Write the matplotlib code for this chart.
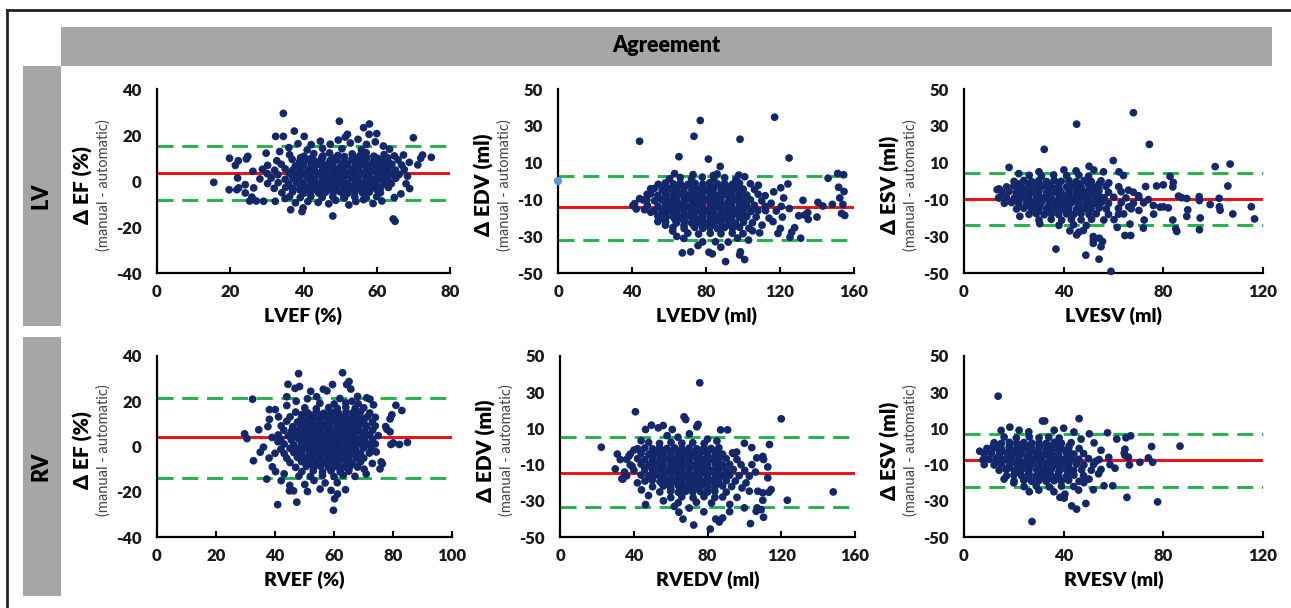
import numpy as np
import matplotlib.pyplot as plt
from matplotlib.patches import Rectangle
from matplotlib.lines import Line2D

plt.rcParams['font.family'] = ['Lato', 'DejaVu Sans']

W, H = 1291, 608

# mean difference, upper and lower limit of agreement
lvef_lines = [3.6, 15.4, -8.3]
lvedv_lines = [-14.3, 2.8, -31.8]
lvesv_lines = [-9.6, 4.5, -24.1]
rvef_lines = [4.0, 21.3, -14.1]
rvedv_lines = [-14.6, 5.4, -33.6]
rvesv_lines = [-7.4, 6.7, -22.2]

# (mean value, difference)
lvef_pts = [
    (15.5,-0.6),(34.5,29.4),(49.8,26.0),(58.0,24.8),(56.4,23.2),(37.5,21.7),(32.4,19.4),(34.5,19.4),
    (40.2,19.4),(70.0,18.8),(60.0,20.6),(57.9,20.3),(52.0,20.3),(51.4,19.1),(74.9,10.3),(72.5,11.3),
    (72.0,9.9),(71.2,7.0),(68.9,8.1),(67.3,11.3),(69.0,-3.3),(64.5,-16.5),(65.0,-17.5),(48.0,-15.2),
    (39.6,-13.3),(39.9,-11.7),(36.5,-12.5),(52.4,-10.4),(46.9,-9.9),(61.4,-8.7),(56.4,-8.1),(51.0,-7.2),
    (32.3,-8.8),(29.1,-8.8),(27.1,-8.7),(25.3,-8.7),(25.9,-7.0),(19.8,9.9),(19.7,-3.8),(22.3,-3.0),
    (21.8,-3.8),(24.1,-5.2),(21.4,6.8),(22.2,8.8),(24.8,10.7),(24.4,9.6),(24.1,-1.6),(22.0,1.3),
    (26.2,4.2),(26.4,-3.0),(38.5,16.2),(42.1,15.8),(44.6,17.3),(47.3,16.0),(49.5,17.8),(52.8,16.5),
    (54.9,18.1),(57.2,15.9),(59.6,17.0),(61.8,15.2),(63.5,13.8),(45.2,14.2),(55.8,13.6),(36.0,14.5),
    (33.5,12.8),(29.8,12.1),(67.5,5.0),(68.4,2.1),(68.0,-1.2),(66.6,-5.6),(64.8,-7.2),(59.0,-9.8),
    (44.0,-9.3),(41.2,-8.9),(37.8,-9.5),(35.0,-7.6),(54.3,-8.9),(48.8,-8.4),(41.0,13.5),(50.5,14.0),
    (36.2,11.4),(40.1,10.7),(42.8,11.9),(45.3,10.9),(47.1,12.2),(49.4,11.1),(51.2,10.6),(53.3,11.8),
    (55.4,11.0),(57.1,12.3),(59.2,10.8),(62.0,11.5),(64.8,10.9),
    (32.7,8.8),(36.9,9.4),(39.0,8.6),(41.2,9.3),(43.1,8.7),(45.0,9.5),(47.2,8.9),(49.1,9.2),(51.0,8.5),
    (53.2,9.4),(55.1,8.8),(57.0,9.1),(59.1,8.6),(61.2,9.3),(63.0,8.8),(65.8,9.2),
    (30.2,6.8),(33.9,7.3),(37.8,6.6),(40.0,7.2),(42.1,6.9),(44.0,7.4),(46.1,6.7),(48.0,7.1),(50.2,6.6),
    (52.0,7.3),(54.1,6.8),(56.0,7.2),(58.2,6.7),(60.1,7.1),(62.0,6.6),(64.1,7.3),(66.8,6.9),
    (28.8,5.1),(32.1,4.7),(35.0,5.3),(37.1,4.8),(39.0,5.2),(41.1,4.6),(43.0,5.1),(45.2,4.8),(47.0,5.4),
    (49.1,4.7),(51.0,5.2),(53.1,4.9),(55.0,5.3),(57.1,4.6),(59.0,5.1),(61.1,4.8),(63.0,5.2),(65.1,4.7),
    (30.1,3.2),(33.0,2.7),(36.1,3.3),(38.0,2.8),(40.1,3.1),(42.0,2.6),(44.1,3.3),(46.0,2.9),(48.1,3.2),
    (50.0,2.7),(52.1,3.1),(54.0,2.8),(56.1,3.3),(58.0,2.9),(60.1,3.2),(62.0,2.7),(64.1,3.1),(66.1,2.8),
    (28.1,0.9),(31.2,1.3),(35.0,0.7),(37.1,1.2),(39.0,0.8),(41.1,1.3),(43.0,0.9),(45.1,1.2),(47.0,0.7),
    (49.1,1.1),(51.0,0.8),(53.1,1.3),(55.0,0.9),(57.1,1.2),(59.0,0.7),(61.1,1.1),(63.0,0.8),(65.2,1.2),
    (30.2,-1.1),(33.1,-0.7),(36.0,-1.3),(38.1,-0.8),(40.0,-1.2),(42.1,-0.7),(44.0,-1.1),(46.1,-0.8),
    (48.0,-1.3),(50.1,-0.9),(52.0,-1.2),(54.1,-0.7),(56.0,-1.1),(58.1,-0.8),(60.0,-1.2),(62.1,-0.9),(64.0,-1.1),
    (32.0,-3.2),(35.1,-2.8),(37.0,-3.3),(39.1,-2.9),(41.0,-3.1),(43.1,-2.7),(45.0,-3.2),(47.1,-2.9),
    (49.0,-3.3),(51.1,-2.8),(53.0,-3.1),(55.1,-2.7),(57.0,-3.2),(59.1,-2.9),(61.0,-3.1),(63.2,-2.8),
    (34.1,-5.1),(37.0,-4.7),(40.1,-5.3),(42.0,-4.8),(44.1,-5.2),(46.0,-4.9),(48.1,-5.1),(50.0,-4.7),
    (52.1,-5.3),(54.0,-4.9),(56.1,-5.2),(58.0,-4.8),(61.0,-5.1),
    (36.2,-6.8),(39.1,-7.2),(42.0,-6.7),(45.1,-7.1),(48.0,-6.8),(51.2,-7.3),(54.0,-6.9),(57.1,-7.2),(60.0,-6.8),
]
# densest part of the LVEF cloud
lvef_core = [
    (39.2,10.1),(42.1,9.8),(45.0,10.2),(48.2,9.9),(51.1,10.1),(54.0,9.8),(57.2,10.2),(60.1,9.9),(63.0,10.1),
    (39.0,7.9),(42.2,8.2),(45.1,7.8),(48.0,8.1),(51.2,7.9),(54.1,8.2),(57.0,7.8),(60.2,8.1),(63.1,7.9),
    (39.1,6.1),(42.0,5.8),(45.2,6.2),(48.1,5.9),(51.0,6.1),(54.2,5.8),(57.1,6.2),(60.0,5.9),(63.2,6.1),
    (39.2,3.9),(42.1,4.2),(45.0,3.8),(48.2,4.1),(51.1,3.9),(54.0,4.2),(57.2,3.8),(60.1,4.1),(63.0,3.9),
    (39.0,2.1),(42.2,1.8),(45.1,2.2),(48.0,1.9),(51.2,2.1),(54.1,1.8),(57.0,2.2),(60.2,1.9),(63.1,2.1),
    (39.1,-0.1),(42.0,0.2),(45.2,-0.2),(48.1,0.1),(51.0,-0.1),(54.2,0.2),(57.1,-0.2),(60.0,0.1),(63.2,-0.1),
    (39.2,-2.1),(42.1,-1.8),(45.0,-2.2),(48.2,-1.9),(51.1,-2.1),(54.0,-1.8),(57.2,-2.2),(60.1,-1.9),(63.0,-2.1),
    (39.0,-3.9),(42.2,-4.2),(45.1,-3.8),(48.0,-4.1),(51.2,-3.9),(54.1,-4.2),(57.0,-3.8),(60.2,-4.1),
]

lvedv_pts = [
    (44.1,21.6),(76.9,32.9),(73.5,24.3),(98.4,22.7),(117.1,34.7),(65.4,13.2),(81.3,11.9),(124.9,12.5),
    (87.7,7.9),(151.2,4.1),(154.4,3.4),(146.0,1.5),(120.4,-3.7),(124.3,-1.6),(151.7,-3.4),(154.6,-5.7),
    (152.3,-9.2),(140.5,-11.6),(148.3,-12.7),(143.2,-13.6),(154.0,-12.7),(140.0,-19.6),(153.3,-17.6),
    (155.0,-18.7),(131.2,-31.1),(126.3,-27.8),(125.4,-30.5),(118.9,-28.5),(100.9,-42.7),(90.6,-43.8),
    (98.6,-38.5),(98.2,-40.2),(81.6,-38.7),(83.4,-39.6),(67.2,-39.1),(71.7,-38.5),(75.7,-35.1),
    (44.1,-9.6),(41.4,-12.3),(40.5,-13.4),(42.3,-15.2),(46.8,-15.6),(133.3,-18.5),(135.3,-20.9),
    (132.4,-10.5),(135.0,-17.2),(130.1,-18.9),(120.7,-13.8),(121.3,-19.6),(120.2,-25.8),(127.9,-25.4),
    (116.6,-5.9),(108.3,-2.3),(97.7,3.2),(100.9,2.3),(112.0,-8.0),(115.2,-12.1),(118.0,-16.3),
    (114.1,-20.2),(110.3,-24.0),(116.2,-22.1),(122.0,-9.2),(125.1,-15.0),(112.2,-16.1),(109.0,-28.2),
    (105.2,-27.1),(62.0,-27.2),(58.1,-24.0),(56.0,-20.1),(64.2,-30.1),(68.0,-31.2),(85.1,-33.0),
    (92.0,-33.2),(97.1,-31.0),(103.0,-32.1),(88.0,-36.0),(78.2,-33.1),(52.0,-4.1),(50.1,-7.0),
    (48.0,-10.2),(50.2,-17.0),(54.0,-22.1),(63.0,4.0),(73.0,3.5),(86.0,3.8),(84.0,3.0),
    (60.3,1.2),(66.1,1.9),(72.2,1.0),(78.0,2.1),(84.3,1.4),(90.1,1.8),(96.2,0.9),
    (54.2,-1.8),(58.0,-1.1),(62.3,-1.6),(66.0,-1.2),(70.2,-1.9),(74.1,-1.3),(78.3,-1.7),(82.0,-1.0),
    (86.2,-1.6),(90.0,-1.3),(94.3,-1.8),(98.1,-1.2),(104.0,-1.5),
    (50.1,-4.2),(56.3,-4.8),(60.0,-4.3),(64.2,-4.7),(68.1,-4.1),(72.3,-4.9),(76.0,-4.4),(80.2,-4.6),
    (84.1,-4.2),(88.3,-4.8),(92.0,-4.3),(96.2,-4.7),(100.1,-4.4),(106.2,-4.6),
    (48.2,-7.2),(54.0,-7.8),(58.3,-7.3),(62.1,-7.7),(66.2,-7.1),(70.0,-7.9),(74.3,-7.4),(78.1,-7.6),
    (82.2,-7.2),(86.0,-7.8),(90.3,-7.3),(94.1,-7.7),(98.2,-7.4),(102.0,-7.6),(108.2,-7.2),
    (46.1,-10.3),(52.2,-10.8),(56.0,-10.2),(60.3,-10.7),(64.1,-10.4),(68.2,-10.9),(72.0,-10.3),
    (76.3,-10.6),(80.1,-10.2),(84.2,-10.8),(88.0,-10.4),(92.3,-10.7),(96.1,-10.3),(100.2,-10.6),
    (104.0,-10.2),(110.1,-10.8),
    (48.3,-13.2),(54.1,-13.8),(58.2,-13.3),(62.0,-13.7),(66.3,-13.1),(70.1,-13.9),(74.2,-13.4),
    (78.0,-13.6),(82.3,-13.2),(86.1,-13.8),(90.2,-13.3),(94.0,-13.7),(98.3,-13.4),(102.1,-13.6),
    (106.2,-13.2),(112.0,-13.8),
    (52.1,-16.3),(56.2,-16.8),(60.0,-16.2),(64.3,-16.7),(68.1,-16.4),(72.2,-16.9),(76.0,-16.3),
    (80.3,-16.6),(84.1,-16.2),(88.2,-16.8),(92.0,-16.4),(96.3,-16.7),(100.1,-16.3),(104.2,-16.6),(108.0,-16.2),
    (54.0,-19.2),(58.3,-19.8),(62.1,-19.3),(66.2,-19.7),(70.0,-19.1),(74.3,-19.9),(78.1,-19.4),
    (82.2,-19.6),(86.0,-19.2),(90.3,-19.8),(94.1,-19.3),(98.2,-19.7),(102.0,-19.4),(107.1,-19.6),
    (58.2,-22.3),(64.0,-22.8),(68.3,-22.2),(72.1,-22.7),(76.2,-22.4),(80.0,-22.9),(84.3,-22.3),
    (88.1,-22.6),(92.2,-22.2),(96.0,-22.8),(100.3,-22.4),(105.1,-22.7),
    (62.1,-25.3),(68.2,-25.8),(74.0,-25.2),(78.3,-25.7),(82.1,-25.4),(86.2,-25.9),(90.0,-25.3),
    (94.3,-25.6),(98.1,-25.2),(103.2,-25.7),
    (70.2,-28.3),(76.0,-28.8),(82.3,-28.4),(88.1,-28.7),(94.2,-28.3),(100.0,-28.6),
]
lvedv_core = [
    (58.1,-3.1),(63.2,-2.8),(68.0,-3.2),(73.1,-2.9),(78.2,-3.1),(83.0,-2.8),(88.1,-3.2),(93.2,-2.9),(98.0,-3.1),
    (58.2,-6.1),(63.0,-5.8),(68.1,-6.2),(73.2,-5.9),(78.0,-6.1),(83.1,-5.8),(88.2,-6.2),(93.0,-5.9),(98.1,-6.1),
    (58.0,-9.1),(63.1,-8.8),(68.2,-9.2),(73.0,-8.9),(78.1,-9.1),(83.2,-8.8),(88.0,-9.2),(93.1,-8.9),(98.2,-9.1),
    (58.1,-12.1),(63.2,-11.8),(68.0,-12.2),(73.1,-11.9),(78.2,-12.1),(83.0,-11.8),(88.1,-12.2),(93.2,-11.9),(98.0,-12.1),
    (58.2,-15.1),(63.0,-14.8),(68.1,-15.2),(73.2,-14.9),(78.0,-15.1),(83.1,-14.8),(88.2,-15.2),(93.0,-14.9),(98.1,-15.1),
    (58.0,-18.1),(63.1,-17.8),(68.2,-18.2),(73.0,-17.9),(78.1,-18.1),(83.2,-17.8),(88.0,-18.2),(93.1,-17.9),(98.2,-18.1),
    (63.2,-20.8),(68.0,-21.2),(73.1,-20.9),(78.2,-21.1),(83.0,-20.8),(88.1,-21.2),(93.2,-20.9),
    (68.1,-24.2),(73.2,-23.9),(78.0,-24.1),(83.1,-23.8),(88.2,-24.2),(93.0,-23.9),
]

lvesv_pts = [
    (68.0,37.1),(45.2,30.9),(74.4,19.9),(32.2,17.2),(59.9,11.1),(106.8,9.2),(100.8,7.8),(18.1,7.4),
    (105.9,-2.7),(82.7,2.5),(84.0,-0.8),(83.8,-3.2),(77.3,-2.7),(80.0,-2.1),(72.9,-3.0),(14.1,-4.3),
    (13.3,-4.7),(13.9,-9.1),(115.3,-14.0),(116.6,-20.6),(107.9,-17.9),(102.4,-9.4),(102.5,-14.0),
    (102.8,-15.9),(98.8,-12.8),(94.4,-8.5),(94.5,-10.6),(94.8,-20.1),(94.5,-26.5),(89.4,-9.5),
    (89.8,-15.7),(89.4,-19.2),(87.4,-9.1),(86.1,-8.2),(83.8,-21.2),(85.0,-26.0),(85.4,-27.4),
    (82.0,-14.6),(80.0,-14.0),(78.7,-14.2),(76.0,-13.3),(72.3,-21.2),(72.0,-25.6),(66.6,-23.4),
    (64.6,-29.6),(66.9,-29.6),(61.5,-25.2),(59.0,-49.1),(54.2,-42.5),(48.9,-40.3),(36.9,-37.0),
    (51.9,-30.2),(54.3,-31.1),(55.6,-32.9),(55.0,-35.7),(51.9,-33.9),(51.9,-32.0),(45.2,-29.3),
    (46.1,-27.8),(42.5,-27.1),(47.9,-26.9),(30.4,-23.2),(22.4,-19.2),(40.1,6.0),(45.0,5.5),(50.2,8.0),
    (52.1,6.0),(56.0,5.0),(62.2,5.0),(64.0,3.0),(30.1,5.0),(22.0,4.0),(58.1,-1.0),(66.0,-5.0),
    (70.1,-8.0),(74.0,-10.1),(70.2,-16.0),(66.1,-14.0),(62.0,-18.1),(76.1,-18.0),(60.2,-21.0),
    (26.2,3.1),(31.1,2.7),(36.0,3.3),(41.2,2.8),(46.1,3.2),(50.0,2.6),
    (20.1,-0.2),(24.0,0.3),(27.2,-0.4),(30.0,0.2),(33.1,-0.3),(36.2,0.4),(39.0,-0.2),(42.1,0.3),
    (45.0,-0.4),(48.2,0.2),(51.1,-0.3),(55.0,0.1),
    (17.1,-3.2),(20.0,-2.7),(23.2,-3.3),(26.1,-2.8),(29.0,-3.1),(32.2,-2.7),(35.1,-3.2),(38.0,-2.9),
    (41.2,-3.3),(44.1,-2.8),(47.0,-3.1),(50.2,-2.7),(53.1,-3.2),(57.0,-2.9),(62.1,-3.1),
    (15.2,-6.1),(18.1,-5.7),(21.0,-6.3),(24.2,-5.8),(27.1,-6.2),(30.0,-5.9),(33.2,-6.1),(36.1,-5.7),
    (39.0,-6.3),(42.2,-5.8),(45.1,-6.2),(48.0,-5.9),(51.2,-6.1),(54.1,-5.7),(58.0,-6.2),(63.1,-5.8),(68.0,-6.1),
    (14.1,-9.2),(17.0,-8.8),(20.2,-9.3),(23.1,-8.7),(26.0,-9.1),(29.2,-8.8),(32.1,-9.2),(35.0,-8.9),
    (38.2,-9.3),(41.1,-8.8),(44.0,-9.1),(47.2,-8.7),(50.1,-9.2),(53.0,-8.9),(56.2,-9.1),(60.1,-8.8),
    (65.0,-9.2),(70.1,-8.9),
    (16.2,-12.1),(19.1,-11.7),(22.0,-12.3),(25.2,-11.8),(28.1,-12.2),(31.0,-11.9),(34.2,-12.1),
    (37.1,-11.7),(40.0,-12.3),(43.2,-11.8),(46.1,-12.2),(49.0,-11.9),(52.2,-12.1),(55.1,-11.7),
    (58.0,-12.2),(63.1,-11.8),(68.0,-12.1),(72.1,-11.9),
    (21.1,-15.2),(24.0,-14.8),(27.2,-15.3),(30.1,-14.7),(33.0,-15.1),(36.2,-14.8),(39.1,-15.2),
    (42.0,-14.9),(45.2,-15.3),(48.1,-14.8),(51.0,-15.1),(54.2,-14.7),(57.1,-15.2),(62.0,-14.9),(67.1,-15.1),
    (26.1,-18.1),(29.0,-17.7),(32.2,-18.3),(35.1,-17.8),(38.0,-18.2),(41.2,-17.9),(44.1,-18.1),
    (47.0,-17.7),(50.2,-18.2),(53.1,-17.8),(58.0,-18.1),(64.1,-17.9),
    (30.1,-21.2),(35.0,-20.8),(39.2,-21.3),(43.1,-20.9),(47.0,-21.1),(51.2,-20.8),(56.1,-21.2),
    (38.1,-24.1),(44.0,-23.8),(49.1,-24.2),
]
lvesv_core = [
    (22.1,-1.6),(26.0,-1.3),(30.2,-1.7),(34.1,-1.4),(38.0,-1.6),(42.2,-1.3),(46.1,-1.7),(50.0,-1.4),(54.2,-1.6),
    (22.0,-4.6),(26.2,-4.3),(30.1,-4.7),(34.0,-4.4),(38.2,-4.6),(42.1,-4.3),(46.0,-4.7),(50.2,-4.4),(54.1,-4.6),
    (22.2,-7.6),(26.1,-7.3),(30.0,-7.7),(34.2,-7.4),(38.1,-7.6),(42.0,-7.3),(46.2,-7.7),(50.1,-7.4),(54.0,-7.6),
    (22.1,-10.6),(26.0,-10.3),(30.2,-10.7),(34.1,-10.4),(38.0,-10.6),(42.2,-10.3),(46.1,-10.7),(50.0,-10.4),(54.2,-10.6),
    (26.2,-13.6),(30.1,-13.3),(34.0,-13.7),(38.2,-13.4),(42.1,-13.6),(46.0,-13.3),(50.2,-13.7),(54.1,-13.4),
    (30.0,-16.6),(34.2,-16.3),(38.1,-16.7),(42.0,-16.4),(46.2,-16.6),(50.1,-16.3),
]

rvef_pts = [
    (29.7,5.6),(30.5,3.5),(32.4,20.9),(32.7,-6.3),(34.5,7.4),(37.6,8.8),(35.0,-2.5),(36.1,-0.3),
    (38.1,16.3),(40.1,16.3),(37.2,-14.4),(40.9,-25.7),(42.1,-15.1),(44.4,27.5),(48.0,32.2),(46.8,25.7),
    (48.3,26.5),(44.0,22.0),(47.4,-24.6),(44.9,-19.6),(46.3,-19.6),(50.1,-16.8),(51.0,-19.9),(55.3,-18.8),
    (59.8,-28.2),(60.2,-23.1),(61.2,-21.0),(59.0,-19.4),(63.9,-19.1),(62.9,32.6),(65.1,28.7),(64.3,27.4),
    (65.7,25.4),(59.5,27.4),(56.4,25.3),(57.6,24.6),(52.1,24.4),(70.9,-12.1),(73.0,-7.5),(75.6,-9.9),
    (76.4,-7.6),(76.0,-6.8),(74.3,-2.4),(79.3,0.9),(80.1,1.6),(82.2,0.9),(84.9,1.8),(81.0,18.2),
    (83.0,15.9),(79.6,14.0),(79.0,12.2),(77.5,8.8),(77.9,7.6),(79.0,6.5),(71.1,21.5),(72.2,20.9),
    (73.4,18.4),(38.0,-5.1),(39.1,-9.0),(40.2,-11.1),(41.0,2.1),(39.0,4.0),(38.1,12.0),(41.2,13.1),
    (40.0,-3.0),(43.1,-12.1),(44.0,18.1),(47.2,20.0),(51.0,21.1),(54.1,22.0),(62.0,21.2),(66.1,20.0),
    (68.0,22.1),(70.2,-10.0),(67.1,-13.2),(57.0,-16.1),(53.2,-15.0),(48.1,-13.1),(45.0,-17.2),(61.1,-16.0),
    (55.2,19.1),(60.1,18.8),(64.0,19.3),(68.2,18.9),
    (50.1,17.1),(54.0,16.7),(58.2,17.2),(61.1,16.8),(64.0,17.3),(67.2,16.9),(70.1,17.1),
    (47.0,15.2),(51.1,14.8),(54.0,15.3),(56.6,14.7),(59.1,15.1),(61.5,14.8),(64.1,15.2),(66.4,14.9),
    (69.0,15.3),(72.1,14.8),
    (45.1,13.1),(49.0,12.7),(51.6,13.3),(54.1,12.8),(56.4,13.2),(59.0,12.9),(61.6,13.1),(64.0,12.7),
    (66.5,13.3),(69.1,12.8),(71.4,13.2),(74.0,12.9),
    (44.0,11.2),(47.6,10.8),(50.1,11.3),(52.4,10.7),(55.0,11.1),(57.6,10.8),(60.1,11.2),(62.4,10.9),
    (65.0,11.3),(67.6,10.8),(70.1,11.1),(73.0,10.7),
    (42.1,9.1),(46.0,8.7),(48.6,9.3),(51.1,8.8),(53.4,9.2),(56.0,8.9),(58.6,9.1),(61.1,8.7),(63.4,9.3),
    (66.0,8.8),(68.6,9.2),(71.1,8.9),(74.0,9.1),
    (43.0,7.2),(45.6,6.8),(48.1,7.3),(50.4,6.7),(53.0,7.1),(55.6,6.8),(58.1,7.2),(60.4,6.9),(63.0,7.3),
    (65.6,6.8),(68.1,7.1),(70.4,6.7),(73.1,7.2),
    (41.1,5.1),(44.5,4.7),(47.0,5.3),(49.6,4.8),(52.1,5.2),(54.4,4.9),(57.0,5.1),(59.6,4.7),(62.1,5.3),
    (64.4,4.8),(67.0,5.2),(69.6,4.9),(72.1,5.1),(75.0,4.8),
    (42.0,3.2),(45.6,2.8),(48.1,3.3),(50.4,2.7),(53.0,3.1),(55.6,2.8),(58.1,3.2),(60.4,2.9),(63.0,3.3),
    (65.6,2.8),(68.1,3.1),(70.4,2.7),(73.1,3.2),
    (43.1,1.1),(46.4,0.7),(49.0,1.3),(51.6,0.8),(54.1,1.2),(56.4,0.9),(59.0,1.1),(61.6,0.7),(64.1,1.3),
    (66.4,0.8),(69.0,1.2),(71.6,0.9),(74.0,1.1),
    (42.0,-1.2),(45.1,-0.8),(47.6,-1.3),(50.0,-0.7),(52.6,-1.1),(55.1,-0.8),(57.4,-1.2),(60.0,-0.9),
    (62.6,-1.3),(65.1,-0.8),(67.4,-1.1),(70.0,-0.7),(72.6,-1.2),
    (43.1,-3.1),(46.4,-2.7),(49.0,-3.3),(51.6,-2.8),(54.1,-3.2),(56.4,-2.9),(59.0,-3.1),(61.6,-2.7),
    (64.1,-3.3),(66.4,-2.8),(69.0,-3.2),(72.0,-2.9),
    (44.0,-5.2),(47.6,-4.8),(50.1,-5.3),(52.4,-4.7),(55.0,-5.1),(57.6,-4.8),(60.1,-5.2),(62.4,-4.9),
    (65.0,-5.3),(67.6,-4.8),(70.1,-5.1),
    (45.1,-7.1),(49.0,-6.7),(51.6,-7.3),(54.1,-6.8),(56.4,-7.2),(59.0,-6.9),(61.6,-7.1),(64.1,-6.7),
    (66.4,-7.3),(69.0,-6.8),
    (47.0,-9.2),(50.6,-8.8),(53.1,-9.3),(55.4,-8.7),(58.0,-9.1),(60.6,-8.8),(63.1,-9.2),(65.4,-8.9),(68.0,-9.1),
    (49.1,-11.1),(53.0,-10.7),(56.1,-11.3),(59.0,-10.8),(62.1,-11.2),(65.0,-10.9),
    (52.0,-13.2),(56.1,-12.8),(60.0,-13.3),(63.1,-12.7),
]
rvef_core = [
    (49.1,14.1),(52.2,13.8),(55.0,14.2),(58.1,13.9),(61.2,14.1),(64.0,13.8),(67.1,14.2),
    (49.2,12.1),(52.0,11.8),(55.1,12.2),(58.2,11.9),(61.0,12.1),(64.1,11.8),(67.2,12.2),
    (49.0,9.9),(52.1,10.2),(55.2,9.8),(58.0,10.1),(61.1,9.9),(64.2,10.2),(67.0,9.8),
    (49.1,8.1),(52.2,7.8),(55.0,8.2),(58.1,7.9),(61.2,8.1),(64.0,7.8),(67.1,8.2),
    (49.2,6.1),(52.0,5.8),(55.1,6.2),(58.2,5.9),(61.0,6.1),(64.1,5.8),(67.2,6.2),
    (49.0,3.9),(52.1,4.2),(55.2,3.8),(58.0,4.1),(61.1,3.9),(64.2,4.2),(67.0,3.8),
    (49.1,2.1),(52.2,1.8),(55.0,2.2),(58.1,1.9),(61.2,2.1),(64.0,1.8),(67.1,2.2),
    (49.2,-0.1),(52.0,0.2),(55.1,-0.2),(58.2,0.1),(61.0,-0.1),(64.1,0.2),(67.2,-0.2),
    (49.0,-2.1),(52.1,-1.8),(55.2,-2.2),(58.0,-1.9),(61.1,-2.1),(64.2,-1.8),(67.0,-2.2),
    (49.1,-3.9),(52.2,-4.2),(55.0,-3.8),(58.1,-4.1),(61.2,-3.9),(64.0,-4.2),(67.1,-3.8),
    (52.0,-6.1),(55.1,-5.8),(58.2,-6.2),(61.0,-5.9),(64.1,-6.1),
    (55.2,-8.1),(58.0,-7.8),(61.1,-8.2),
]

rvedv_pts = [
    (75.8,35.2),(40.9,19.2),(120.0,15.3),(67.3,16.4),(68.2,14.9),(74.2,10.9),(74.9,12.2),(53.3,10.3),
    (56.0,11.6),(49.6,11.8),(60.9,9.4),(87.1,9.2),(90.9,9.2),(46.4,9.4),(22.4,-0.4),(31.1,-4.2),
    (32.7,-7.2),(30.0,-12.4),(33.6,-17.9),(37.3,-5.4),(39.1,-10.9),(100.0,1.8),(104.0,-0.6),(113.6,1.1),
    (110.0,-5.5),(110.4,-7.2),(112.7,-11.3),(112.7,-17.3),(114.5,-23.8),(113.3,-25.3),(107.3,-24.7),
    (110.0,-25.6),(123.3,-29.7),(148.2,-25.1),(110.0,-29.7),(106.9,-33.9),(109.1,-34.9),(110.4,-39.1),
    (106.4,-35.8),(103.3,-42.6),(81.5,-45.6),(72.5,-43.4),(66.7,-40.1),(64.5,-36.3),(86.4,-41.7),
    (88.2,-39.5),(84.5,-40.1),(100.0,-33.9),(46.4,-32.1),(98.7,-22.9),(100.9,-20.1),(102.7,-16.4),
    (102.7,-24.7),(93.6,-3.5),(95.8,-3.1),(106.7,-6.3),(58.1,6.0),(64.0,5.1),(70.2,7.0),(80.0,4.1),
    (85.1,3.0),(44.0,3.2),(40.1,-2.0),(35.0,-14.1),(34.1,-18.0),(42.0,-20.1),(44.2,-24.0),(48.0,-27.1),
    (56.1,-30.0),(62.0,-33.1),(70.1,-34.0),(78.0,-36.1),(92.1,-32.0),(96.0,-28.1),(104.1,-10.0),
    (106.0,-14.1),(92.0,-36.0),
    (48.1,2.2),(54.0,1.7),(60.2,2.3),(66.1,1.8),(72.0,2.1),(78.2,1.7),
    (42.1,-1.2),(46.0,-0.8),(50.2,-1.3),(54.1,-0.7),(58.0,-1.1),(62.2,-0.8),(66.1,-1.2),(70.0,-0.9),
    (74.2,-1.3),(78.1,-0.8),(82.0,-1.1),(86.2,-0.7),
    (38.1,-4.2),(44.0,-3.8),(48.2,-4.3),(52.1,-3.7),(56.0,-4.1),(60.2,-3.8),(64.1,-4.2),(68.0,-3.9),
    (72.2,-4.3),(76.1,-3.8),(80.0,-4.1),(84.2,-3.7),(88.1,-4.2),(94.0,-3.9),
    (36.2,-7.1),(42.1,-6.7),(46.0,-7.3),(50.2,-6.8),(54.1,-7.2),(58.0,-6.9),(62.2,-7.1),(66.1,-6.7),
    (70.0,-7.3),(74.2,-6.8),(78.1,-7.2),(82.0,-6.9),(86.2,-7.1),(90.1,-6.7),(96.0,-7.2),
    (38.1,-10.2),(44.0,-9.8),(48.2,-10.3),(52.1,-9.7),(56.0,-10.1),(60.2,-9.8),(64.1,-10.2),(68.0,-9.9),
    (72.2,-10.3),(76.1,-9.8),(80.0,-10.1),(84.2,-9.7),(88.1,-10.2),(92.0,-9.9),(98.2,-10.1),
    (40.1,-13.1),(46.0,-12.7),(50.2,-13.3),(54.1,-12.8),(58.0,-13.2),(62.2,-12.9),(66.1,-13.1),
    (70.0,-12.7),(74.2,-13.3),(78.1,-12.8),(82.0,-13.2),(86.2,-12.9),(90.1,-13.1),(94.0,-12.7),(100.2,-13.2),
    (36.1,-16.2),(44.0,-15.8),(48.2,-16.3),(52.1,-15.7),(56.0,-16.1),(60.2,-15.8),(64.1,-16.2),
    (68.0,-15.9),(72.2,-16.3),(76.1,-15.8),(80.0,-16.1),(84.2,-15.7),(88.1,-16.2),(92.0,-15.9),(97.2,-16.1),
    (46.1,-19.1),(50.0,-18.7),(54.2,-19.3),(58.1,-18.8),(62.0,-19.2),(66.2,-18.9),(70.1,-19.1),
    (74.0,-18.7),(78.2,-19.3),(82.1,-18.8),(86.0,-19.2),(90.2,-18.9),(95.1,-19.1),
    (50.2,-22.2),(56.1,-21.8),(60.0,-22.3),(64.2,-21.7),(68.1,-22.1),(72.0,-21.8),(76.2,-22.2),
    (80.1,-21.9),(84.0,-22.3),(88.2,-21.8),(93.1,-22.1),
    (54.1,-25.1),(60.0,-24.7),(64.2,-25.3),(68.1,-24.8),(72.0,-25.2),(76.2,-24.9),(80.1,-25.1),
    (84.0,-24.7),(90.2,-25.2),
    (60.1,-28.2),(66.0,-27.8),(72.2,-28.3),(78.1,-27.7),(84.0,-28.1),(88.2,-27.9),
    (64.1,-31.1),(74.0,-30.8),(82.2,-31.2),
]
rvedv_core = [
    (50.1,-2.6),(55.2,-2.3),(60.0,-2.7),(65.1,-2.4),(70.2,-2.6),(75.0,-2.3),(80.1,-2.7),(85.2,-2.4),
    (50.2,-5.6),(55.0,-5.3),(60.1,-5.7),(65.2,-5.4),(70.0,-5.6),(75.1,-5.3),(80.2,-5.7),(85.0,-5.4),
    (50.0,-8.6),(55.1,-8.3),(60.2,-8.7),(65.0,-8.4),(70.1,-8.6),(75.2,-8.3),(80.0,-8.7),(85.1,-8.4),
    (50.1,-11.6),(55.2,-11.3),(60.0,-11.7),(65.1,-11.4),(70.2,-11.6),(75.0,-11.3),(80.1,-11.7),(85.2,-11.4),
    (50.2,-14.6),(55.0,-14.3),(60.1,-14.7),(65.2,-14.4),(70.0,-14.6),(75.1,-14.3),(80.2,-14.7),(85.0,-14.4),
    (50.0,-17.6),(55.1,-17.3),(60.2,-17.7),(65.0,-17.4),(70.1,-17.6),(75.2,-17.3),(80.0,-17.7),(85.1,-17.4),
    (55.2,-20.3),(60.0,-20.7),(65.1,-20.4),(70.2,-20.6),(75.0,-20.3),(80.1,-20.7),(85.2,-20.4),
    (60.1,-23.7),(65.2,-23.4),(70.0,-23.6),(75.1,-23.3),(80.2,-23.7),
]

rvesv_pts = [
    (13.7,27.8),(46.2,15.4),(31.5,14.1),(32.4,14.1),(57.6,7.6),(66.9,5.9),(65.0,4.8),(61.3,4.1),
    (50.3,7.0),(86.7,0.2),(75.3,0.0),(64.6,-1.5),(64.3,-3.7),(64.6,-4.8),(66.0,-5.9),(74.0,-6.3),
    (70.6,-8.7),(66.4,-10.2),(75.7,-8.7),(60.6,-12.0),(58.6,-10.0),(56.2,-21.7),(59.7,-21.7),
    (65.4,-28.1),(77.7,-30.6),(27.3,-41.5),(43.2,-32.8),(45.2,-34.6),(48.9,-31.5),(51.9,-23.9),
    (40.5,-26.3),(40.2,-28.5),(38.5,-28.1),(6.3,-2.6),(7.6,-7.4),(11.7,0.2),(14.9,8.9),(18.4,10.7),
    (22.1,9.0),(26.0,8.1),(36.2,9.0),(40.0,10.1),(44.1,8.0),(47.0,4.1),(52.2,2.0),(55.0,-2.1),
    (58.1,-6.0),(54.0,-15.1),(50.2,-18.0),(46.0,-24.1),(36.1,-25.0),(30.0,-24.1),(26.2,-25.0),
    (48.1,-20.0),(53.0,-8.1),(8.1,-10.0),(20.0,-20.1),(16.1,-18.0),
    (16.1,5.2),(21.0,4.7),(26.2,5.3),(30.1,4.8),(34.0,5.1),(38.2,4.7),
    (12.1,2.1),(15.0,1.7),(18.2,2.3),(21.1,1.8),(24.0,2.2),(27.2,1.9),(30.1,2.1),(33.0,1.7),(36.2,2.3),
    (39.1,1.8),(43.0,2.1),
    (9.2,-1.1),(12.1,-0.7),(15.0,-1.3),(18.2,-0.8),(21.1,-1.2),(24.0,-0.9),(27.2,-1.1),(30.1,-0.7),
    (33.0,-1.3),(36.2,-0.8),(39.1,-1.2),(42.0,-0.9),(46.2,-1.1),
    (8.1,-4.2),(11.0,-3.8),(14.2,-4.3),(17.1,-3.7),(20.0,-4.1),(23.2,-3.8),(26.1,-4.2),(29.0,-3.9),
    (32.2,-4.3),(35.1,-3.8),(38.0,-4.1),(41.2,-3.7),(44.1,-4.2),(48.0,-3.9),
    (10.1,-7.1),(13.0,-6.7),(16.2,-7.3),(19.1,-6.8),(22.0,-7.2),(25.2,-6.9),(28.1,-7.1),(31.0,-6.7),
    (34.2,-7.3),(37.1,-6.8),(40.0,-7.2),(43.2,-6.9),(46.1,-7.1),(50.0,-6.7),(54.2,-7.2),
    (12.1,-10.2),(15.0,-9.8),(18.2,-10.3),(21.1,-9.7),(24.0,-10.1),(27.2,-9.8),(30.1,-10.2),(33.0,-9.9),
    (36.2,-10.3),(39.1,-9.8),(42.0,-10.1),(45.2,-9.7),(48.1,-10.2),(52.0,-9.9),
    (14.1,-13.1),(17.0,-12.7),(20.2,-13.3),(23.1,-12.8),(26.0,-13.2),(29.2,-12.9),(32.1,-13.1),
    (35.0,-12.7),(38.2,-13.3),(41.1,-12.8),(44.0,-13.2),(47.2,-12.9),(51.1,-13.1),(55.0,-12.7),
    (17.1,-16.2),(20.0,-15.8),(23.2,-16.3),(26.1,-15.7),(29.0,-16.1),(32.2,-15.8),(35.1,-16.2),
    (38.0,-15.9),(41.2,-16.3),(44.1,-15.8),(48.0,-16.1),
    (20.1,-19.1),(24.0,-18.7),(27.2,-19.3),(30.1,-18.8),(33.0,-19.2),(36.2,-18.9),(39.1,-19.1),
    (42.0,-18.7),(46.2,-19.2),
    (24.1,-22.2),(29.0,-21.8),(34.2,-22.3),(39.1,-21.9),(44.0,-22.1),
]
rvesv_core = [
    (14.1,0.6),(18.2,0.3),(22.0,0.7),(26.1,0.4),(30.2,0.6),(34.0,0.3),(38.1,0.7),(42.2,0.4),
    (14.2,-2.4),(18.0,-2.7),(22.1,-2.3),(26.2,-2.6),(30.0,-2.4),(34.1,-2.7),(38.2,-2.3),(42.0,-2.6),
    (14.0,-5.4),(18.1,-5.7),(22.2,-5.3),(26.0,-5.6),(30.1,-5.4),(34.2,-5.7),(38.0,-5.3),(42.1,-5.6),
    (14.1,-8.4),(18.2,-8.7),(22.0,-8.3),(26.1,-8.6),(30.2,-8.4),(34.0,-8.7),(38.1,-8.3),(42.2,-8.6),
    (18.0,-11.7),(22.1,-11.3),(26.2,-11.6),(30.0,-11.4),(34.1,-11.7),(38.2,-11.3),(42.0,-11.6),
    (22.2,-14.3),(26.0,-14.6),(30.1,-14.4),(34.2,-14.7),(38.0,-14.3),(42.1,-14.6),
    (26.1,-17.6),(30.2,-17.4),(34.0,-17.7),(38.1,-17.3),
]

stray_pt = [(0.0, 0.0)]   # light blue point sitting on the LVEDV y axis

point_color = '#13286b'
mean_color = '#f20d0d'
loa_color = '#22b24c'
tick_color = '#1a1a1a'

fig = plt.figure(figsize=(W / 100, H / 100), dpi=100)


def px_box(x0, y0, x1, y1):
    return [x0 / W, 1 - y1 / H, (x1 - x0) / W, (y1 - y0) / H]


# frame lines, header and row labels
fig.add_artist(Line2D([7 / W, 1], [1 - 10 / H, 1 - 10 / H], color='#222222', lw=2,
                      transform=fig.transFigure))
fig.add_artist(Line2D([7 / W, 7 / W], [0, 1 - 10 / H], color='#222222', lw=2,
                      transform=fig.transFigure))
for (x0, y0, x1, y1) in [(61, 27, 1272, 66), (23, 66, 61, 326), (23, 337, 61, 596)]:
    fig.add_artist(Rectangle((x0 / W, 1 - y1 / H), (x1 - x0) / W, (y1 - y0) / H,
                             transform=fig.transFigure, facecolor='#a6a6a6', edgecolor='none'))
fig.text(666 / W, 1 - 46 / H, 'Agreement', ha='center', va='center', fontsize=15.5,
         fontweight='heavy', color='black')
fig.text(41 / W, 1 - 196 / H, 'LV', ha='center', va='center', fontsize=15.5,
         fontweight='heavy', rotation=90)
fig.text(41 / W, 1 - 466 / H, 'RV', ha='center', va='center', fontsize=15.5,
         fontweight='heavy', rotation=90)

panels = [
    # points, lines, x range, x ticks, y range, y ticks, x label, y label, box (px)
    (lvef_pts + lvef_core, lvef_lines, (0, 80), [0, 20, 40, 60, 80], (-40, 40),
     [-40, -20, 0, 20, 40], 'LVEF (%)', r'Δ EF (%)', (157, 89, 450, 273)),
    (lvedv_pts + lvedv_core, lvedv_lines, (0, 160), [0, 40, 80, 120, 160], (-50, 50),
     [-50, -30, -10, 10, 30, 50], 'LVEDV (ml)', r'Δ EDV (ml)', (558, 89, 854, 273)),
    (lvesv_pts + lvesv_core, lvesv_lines, (0, 120), [0, 40, 80, 120], (-50, 50),
     [-50, -30, -10, 10, 30, 50], 'LVESV (ml)', r'Δ ESV (ml)', (964, 89, 1263, 273)),
    (rvef_pts + rvef_core, rvef_lines, (0, 100), [0, 20, 40, 60, 80, 100], (-40, 40),
     [-40, -20, 0, 20, 40], 'RVEF (%)', r'Δ EF (%)', (157, 356, 452, 537)),
    (rvedv_pts + rvedv_core, rvedv_lines, (0, 160), [0, 40, 80, 120, 160], (-50, 50),
     [-50, -30, -10, 10, 30, 50], 'RVEDV (ml)', r'Δ EDV (ml)', (560, 356, 855, 537)),
    (rvesv_pts + rvesv_core, rvesv_lines, (0, 120), [0, 40, 80, 120], (-50, 50),
     [-50, -30, -10, 10, 30, 50], 'RVESV (ml)', r'Δ ESV (ml)', (964, 356, 1263, 537)),
]

for i, (pts, lines, xr, xt, yr, yt, xlab, ylab, box) in enumerate(panels):
    ax = fig.add_axes(px_box(*box))
    x, d = zip(*pts)
    ax.scatter(x, d, s=31, color=point_color, edgecolors='none', zorder=3, clip_on=False)
    if i == 1:
        sx, sd = zip(*stray_pt)
        ax.scatter(sx, sd, s=36, color='#5b9bd5', edgecolors='none', zorder=4, clip_on=False)
    ax.plot(xr, [lines[0]] * 2, color=mean_color, lw=2.1, zorder=2)
    for v in lines[1:]:
        ax.plot(xr, [v] * 2, color=loa_color, lw=2.1, dashes=(5.5, 3.0), zorder=2)
    ax.set_xlim(*xr)
    ax.set_ylim(*yr)
    ax.set_xticks(xt)
    ax.set_yticks(yt)
    ax.set_xticklabels([str(v) for v in xt])
    ax.set_yticklabels([str(v) for v in yt])
    for s in ['top', 'right']:
        ax.spines[s].set_visible(False)
    for s in ['left', 'bottom']:
        ax.spines[s].set_linewidth(1.6)
        ax.spines[s].set_color('black')
    ax.tick_params(axis='x', direction='in', length=4, width=1.5, pad=8, labelsize=12,
                   labelcolor=tick_color)
    ax.tick_params(axis='y', length=0, pad=11, labelsize=12, labelcolor=tick_color)
    for lab in ax.get_xticklabels() + ax.get_yticklabels():
        lab.set_fontweight('heavy')
    ax.patch.set_alpha(0)

    x0, y0, x1, y1 = box
    yc = (y0 + y1) / 2 + 4
    fig.text((x0 - 74) / W, 1 - yc / H, ylab, rotation=90, ha='center', va='center',
             fontsize=15, fontweight='heavy')
    fig.text((x0 - 53) / W, 1 - yc / H, '(manual - automatic)', rotation=90, ha='center',
             va='center', fontsize=10.5, color='#444444')
    fig.text((x0 + x1) / 2 / W, 1 - (y1 + 43) / H, xlab, ha='center', va='center',
             fontsize=14, fontweight='heavy')

fig.savefig('out.png', dpi=100)
